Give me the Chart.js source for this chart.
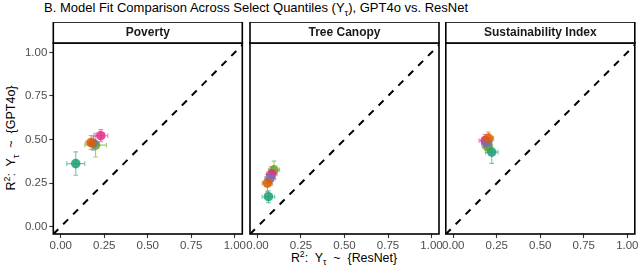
<!DOCTYPE html>
<html>
<head>
<meta charset="utf-8">
<script src="https://cdn.jsdelivr.net/npm/chart.js@4/dist/chart.umd.min.js"></script>
<style>
  html, body { margin:0; padding:0; background:#fff; }
  body { width:640px; height:272px; position:relative; overflow:hidden; font-family:"Liberation Sans", Arial, sans-serif; }
  .pnl { position:absolute; }
  #title { position:absolute; left:44px; top:0px; font-size:13px; color:#000; white-space:nowrap; }
  #xtitle { position:absolute; left:344px; top:251px; transform:translateX(-50%); font-size:12.4px; color:#000; white-space:nowrap; }
  #ytitle { position:absolute; left:11px; top:138px; transform:translate(-50%,-50%) rotate(-90deg); font-size:12.5px; color:#000; white-space:nowrap; }
  sub, sup { font-size:70%; line-height:0; }
</style>
</head>
<body>
<div id="title">B. Model Fit Comparison Across Select Quantiles (Y<sub>τ</sub>), GPT4o vs. ResNet</div>
<div id="ytitle">R<sup>2</sup>:&nbsp; Y<sub>τ</sub> &nbsp;~ &nbsp;{GPT4o}</div>
<div id="xtitle">R<sup>2</sup>:&nbsp; Y<sub>τ</sub> &nbsp;~ &nbsp;{ResNet}</div>
<div class="pnl" id="w0"><canvas id="c0"></canvas></div>
<div class="pnl" id="w1"><canvas id="c1"></canvas></div>
<div class="pnl" id="w2"><canvas id="c2"></canvas></div>
<script>
// ---------- data ----------
const panels = ["Poverty", "Tree Canopy", "Sustainability Index"];
const quantileColors = ["#1B9E77", "#D95F02", "#7570B3", "#E7298A", "#66A61E"];
// per panel, per quantile: ResNet R2 (x), GPT4o R2 (y), and half-widths of error bars
const resnetR2 = [
  [0.086, 0.174, 0.187, 0.230, 0.200],
  [0.063, 0.057, 0.072, 0.082, 0.095],
  [0.221, 0.202, 0.192, 0.183, 0.196]
];
const gptR2 = [
  [0.362, 0.483, 0.479, 0.522, 0.468],
  [0.172, 0.250, 0.278, 0.303, 0.326],
  [0.428, 0.508, 0.479, 0.494, 0.460]
];
const resnetErr = [
  [0.052, 0.030, 0.030, 0.040, 0.062],
  [0.036, 0.030, 0.030, 0.030, 0.032],
  [0.036, 0.030, 0.030, 0.035, 0.030]
];
const gptErr = [
  [0.067, 0.040, 0.040, 0.035, 0.068],
  [0.034, 0.050, 0.040, 0.040, 0.050],
  [0.065, 0.035, 0.035, 0.035, 0.035]
];
const tickValues = [0, 0.25, 0.5, 0.75, 1];
const refLine = [-0.1, 1.2];

// ---------- layout ----------
const plotLefts = [53.3, 250, 445.8];
const plotW = 189, plotH = 191;
const stripTop = 22, stripH = 21;
const canvasH = 272 - stripTop;
const xRange = [-0.043, 1.043], yRange = [-0.042, 1.054];

function hexA(hex, a) {
  const n = parseInt(hex.slice(1), 16);
  return `rgba(${(n>>16)&255},${(n>>8)&255},${n&255},${a})`;
}

const errorBars = {
  id: 'errorBars',
  beforeDatasetsDraw(chart) {
    const ctx = chart.ctx, xs = chart.scales.x, ys = chart.scales.y;
    ctx.save();
    ctx.lineWidth = 1.1;
    chart.data.datasets.forEach(ds => {
      if (!ds.isPoint) return;
      ds.data.forEach(p => {
        const cx = xs.getPixelForValue(p.x), cy = ys.getPixelForValue(p.y);
        const x1 = xs.getPixelForValue(p.x - p.xe), x2 = xs.getPixelForValue(p.x + p.xe);
        const y1 = ys.getPixelForValue(p.y - p.ye), y2 = ys.getPixelForValue(p.y + p.ye);
        const c = 2.3;
        ctx.strokeStyle = hexA(ds.baseColor, 0.6);
        ctx.beginPath();
        ctx.moveTo(x1, cy); ctx.lineTo(x2, cy);
        ctx.moveTo(x1, cy - c); ctx.lineTo(x1, cy + c);
        ctx.moveTo(x2, cy - c); ctx.lineTo(x2, cy + c);
        ctx.moveTo(cx, y1); ctx.lineTo(cx, y2);
        ctx.moveTo(cx - c, y1); ctx.lineTo(cx + c, y1);
        ctx.moveTo(cx - c, y2); ctx.lineTo(cx + c, y2);
        ctx.stroke();
      });
    });
    ctx.restore();
  }
};

const frameStrip = {
  id: 'frameStrip',
  afterDraw(chart) {
    const ctx = chart.ctx, a = chart.chartArea;
    ctx.save();
    ctx.strokeStyle = '#000';
    ctx.lineWidth = 1.6;
    ctx.strokeRect(a.left, a.top, a.right - a.left, a.bottom - a.top);
    ctx.fillStyle = '#fff';
    ctx.fillRect(a.left, a.top - stripH, a.right - a.left, stripH);
    ctx.strokeRect(a.left, a.top - stripH, a.right - a.left, stripH);
    ctx.fillStyle = '#1A1A1A';
    ctx.font = 'bold 12px "Liberation Sans", Arial, sans-serif';
    ctx.textAlign = 'center';
    ctx.textBaseline = 'middle';
    ctx.fillText(chart.options.plugins.stripLabel, (a.left + a.right) / 2, a.top - stripH / 2 + 0.5);
    ctx.restore();
  }
};

function noOverhang(s) {
  s.paddingLeft = 0; s.paddingRight = 0; s.paddingTop = 0; s.paddingBottom = 0;
}

panels.forEach((name, i) => {
  const leftMargin = i === 0 ? 53.3 : 16;
  const rightMargin = 12;
  const wrap = document.getElementById('w' + i);
  const cvs = document.getElementById('c' + i);
  const left = Math.round(plotLefts[i] - leftMargin);
  const width = Math.round(plotLefts[i] - left + plotW + rightMargin);
  const padLeft = plotLefts[i] - left;
  wrap.style.left = left + 'px';
  wrap.style.top = stripTop + 'px';
  cvs.width = width; cvs.height = canvasH;
  cvs.style.width = width + 'px'; cvs.style.height = canvasH + 'px';

  const datasets = [{
    type: 'line',
    data: refLine.map(v => ({x: v, y: v})),
    borderColor: '#000', borderWidth: 2, borderDash: [7, 7],
    pointRadius: 0, fill: false, order: 10
  }];
  quantileColors.forEach((col, q) => {
    datasets.push({
      type: 'scatter', isPoint: true, baseColor: col,
      data: [{x: resnetR2[i][q], y: gptR2[i][q], xe: resnetErr[i][q], ye: gptErr[i][q]}],
      backgroundColor: hexA(col, 0.85), borderWidth: 0,
      pointRadius: 4.8, pointHoverRadius: 4.8, order: 1
    });
  });

  new Chart(cvs, {
    data: { datasets },
    options: {
      responsive: false, animation: false, devicePixelRatio: 1,
      layout: { padding: { top: stripH, left: 0, right: width - padLeft - plotW, bottom: 0 } },
      plugins: { legend: { display: false }, tooltip: { enabled: false }, stripLabel: name },
      scales: {
        x: {
          type: 'linear', min: xRange[0], max: xRange[1],
          afterBuildTicks: s => { s.ticks = tickValues.map(v => ({value: v})); },
          afterFit: s => { s.height = canvasH - stripH - plotH; noOverhang(s); },
          grid: { drawOnChartArea: false, drawTicks: true, tickLength: 4, color: '#333333', tickWidth: 1.1 },
          border: { display: false },
          ticks: { color: '#4D4D4D', font: { family: '"Liberation Sans", Arial, sans-serif', size: 11.5 }, padding: 1, maxRotation: 0, autoSkip: false,
                   callback: v => Number(v).toFixed(2) }
        },
        y: {
          type: 'linear', min: yRange[0], max: yRange[1], display: i === 0,
          afterBuildTicks: s => { s.ticks = tickValues.map(v => ({value: v})); },
          afterFit: s => { s.width = padLeft; noOverhang(s); },
          grid: { drawOnChartArea: false, drawTicks: true, tickLength: 4, color: '#333333', tickWidth: 1.1 },
          border: { display: false },
          ticks: { color: '#4D4D4D', font: { family: '"Liberation Sans", Arial, sans-serif', size: 11.5 }, padding: 2,
                   callback: v => Number(v).toFixed(2) }
        }
      }
    },
    plugins: [errorBars, frameStrip]
  });
});
</script>
</body>
</html>
